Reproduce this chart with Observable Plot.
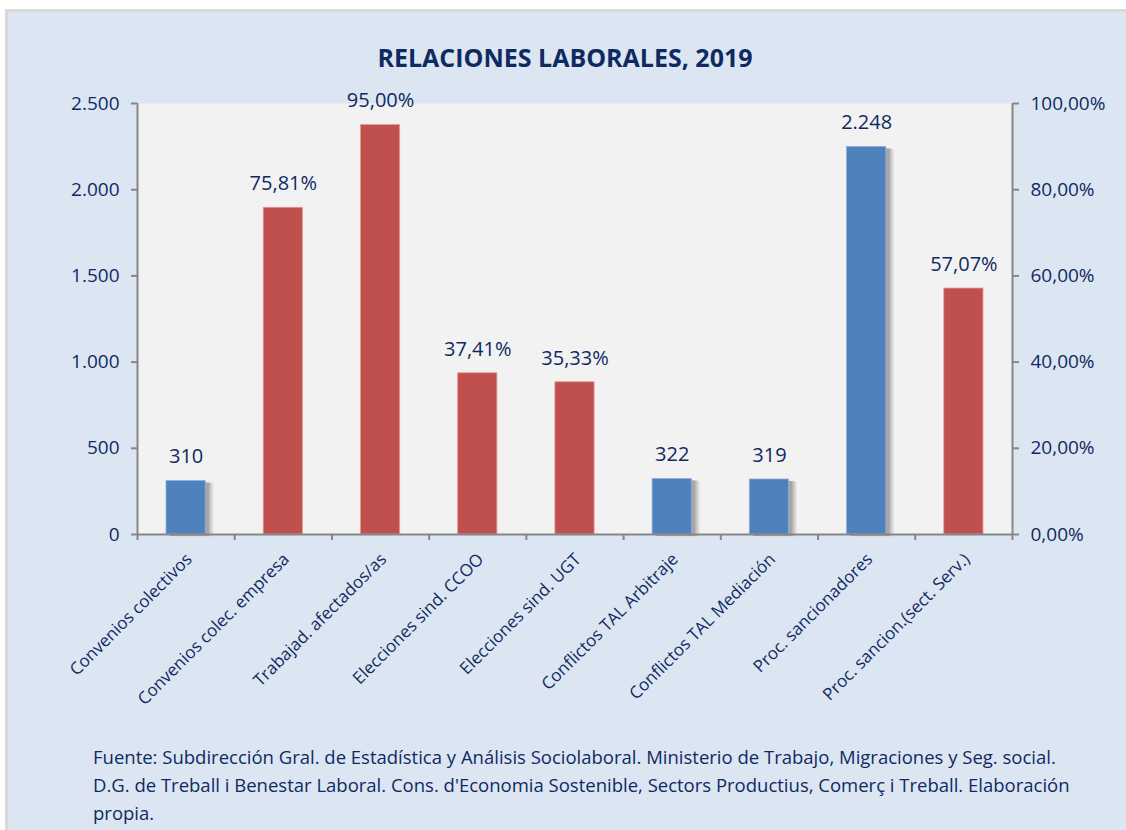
<!DOCTYPE html>
<html>
<head>
<meta charset="utf-8">
<script src="https://cdn.jsdelivr.net/npm/d3@7"></script>
<script src="https://cdn.jsdelivr.net/npm/@observablehq/plot@0.6"></script>
<style>
  html, body { margin: 0; padding: 0; background: #ffffff; }
  #page {
    position: relative; width: 1126px; height: 830px; overflow: hidden;
    font-family: "Open Sans", sans-serif; color: #0f2a62;
  }
  #card {
    position: absolute; left: 5px; top: 9px; width: 1130px; height: 830px;
    background: #dce6f2; border: 3px solid #d9d9d9; box-sizing: border-box;
  }
  #title {
    position: absolute; left: 0; width: 1126px; top: 38px; text-align: center;
    font-weight: 700; font-size: 25px; line-height: 38px; margin: 0; padding-left: 4px; box-sizing: border-box;
  }
  #chart { position: absolute; left: 0; top: 80px; }
  #caption {
    position: absolute; left: 93px; top: 743px; width: 1030px; margin: 0;
    font-size: 18.5px; line-height: 28px; white-space: nowrap;
  }
</style>
</head>
<body>
<div id="page">
  <div id="card"></div>
  <h1 id="title">RELACIONES LABORALES, 2019</h1>
  <div id="chart"></div>
  <p id="caption">Fuente: Subdirección Gral. de Estadística y Análisis Sociolaboral. Ministerio de Trabajo, Migraciones y Seg. social.<br>D.G. de Treball i Benestar Laboral. Cons. d'Economia Sostenible, Sectors Productius, Comerç i Treball. Elaboración<br>propia.</p>
</div>
<script>
// ---- data ----
const categories = [
  "Convenios colectivos",
  "Convenios colec. empresa",
  "Trabajad. afectados/as",
  "Elecciones sind. CCOO",
  "Elecciones sind. UGT",
  "Conflictos TAL Arbitraje",
  "Conflictos TAL Mediación",
  "Proc. sancionadores",
  "Proc. sancion.(sect. Serv.)"
];
// "n" = count (left axis), "p" = percentage (right axis)
const kinds  = ["n", "p", "p", "p", "p", "n", "n", "n", "p"];
const values = [310, 75.81, 95.00, 37.41, 35.33, 322, 319, 2248, 57.07];
const leftTicks  = [0, 500, 1000, 1500, 2000, 2500];
const rightTicks = [0, 20, 40, 60, 80, 100];
const leftMax = 2500, rightMax = 100;

// ---- formatting ----
const es = d3.formatLocale({decimal: ",", thousands: ".", grouping: [3], currency: ["", " €"]});
const fmtN = es.format(",d");
const fmtP = v => es.format(".2f")(v) + "%";
const toLeft = v => v * leftMax / rightMax;

const rows = categories.map((c, i) => ({
  cat: c, i, kind: kinds[i], value: values[i],
  y: kinds[i] === "n" ? values[i] : toLeft(values[i]),
  label: kinds[i] === "n" ? fmtN(values[i]) : fmtP(values[i])
}));
const counts = rows.filter(d => d.kind === "n");
const navy = "#0f2a62";
const axisGray = "#868686";

const chart = Plot.plot({
  width: 1126,
  height: 640,
  marginLeft: 137,
  marginRight: 114,
  marginTop: 23,
  marginBottom: 186,
  style: {background: "transparent", fontFamily: "Open Sans, sans-serif", color: navy},
  x: {type: "linear", domain: [0, categories.length], axis: null, label: null},
  y: {domain: [0, leftMax], axis: null, label: null},
  marks: [
    Plot.frame({fill: "#f2f2f2", stroke: null}),
    // shadows for count bars
    Plot.rectY(counts, {x1: "i", x2: d => d.i + 1, y: "y", insetLeft: 29, insetRight: 29, dx: 8, dy: 3, fill: "#dcdcdc"}),
    Plot.rectY(counts, {x1: "i", x2: d => d.i + 1, y: "y", insetLeft: 29, insetRight: 29, dx: 6, dy: 2, fill: "#c4c4c4"}),
    Plot.rectY(counts, {x1: "i", x2: d => d.i + 1, y: "y", insetLeft: 29, insetRight: 29, dx: 4, dy: 2, fill: "#a6a6a6"}),
    // bars
    Plot.rectY(rows, {
      x1: "i", x2: d => d.i + 1, y: "y", insetLeft: 29, insetRight: 29,
      fill: d => d.kind === "n" ? "#4f81bd" : "#c0504d",
      stroke: d => d.kind === "n" ? "#8eaedb" : "#e39c9a", strokeWidth: 0.8
    }),
    // value labels
    Plot.text(rows, {x: d => d.i + 0.5, y: "y", text: "label", dy: -24, fontSize: 20, fill: navy}),
    // axis lines
    Plot.ruleX([0, categories.length], {y1: 0, y2: leftMax, stroke: axisGray, strokeWidth: 2}),
    Plot.ruleY([0], {x1: 0, x2: categories.length, stroke: axisGray, strokeWidth: 2}),
    // left axis
    Plot.axisY({ticks: leftTicks, anchor: "left", label: null, tickSize: 6, tickPadding: 12, tickFormat: fmtN,
      fontSize: 19, stroke: axisGray, strokeWidth: 2, fill: navy}),
    // right axis (percentages)
    Plot.axisY({ticks: rightTicks.map(toLeft), anchor: "right", label: null, tickSize: 6, tickPadding: 12,
      tickFormat: d => fmtP(d * rightMax / leftMax), fontSize: 19, stroke: axisGray, strokeWidth: 2, fill: navy}),
    // bottom ticks at category boundaries
    Plot.axisX({ticks: d3.range(categories.length + 1), anchor: "bottom", label: null, tickSize: 6, tickFormat: () => "",
      stroke: axisGray, strokeWidth: 2}),
    // rotated category labels
    Plot.text(rows, {x: d => d.i + 0.5, y: 0, text: "cat", rotate: -45, textAnchor: "end",
      dx: 3, dy: 22, fontSize: 17, fill: navy})
  ]
});
document.getElementById("chart").appendChild(chart);
</script>
</body>
</html>
